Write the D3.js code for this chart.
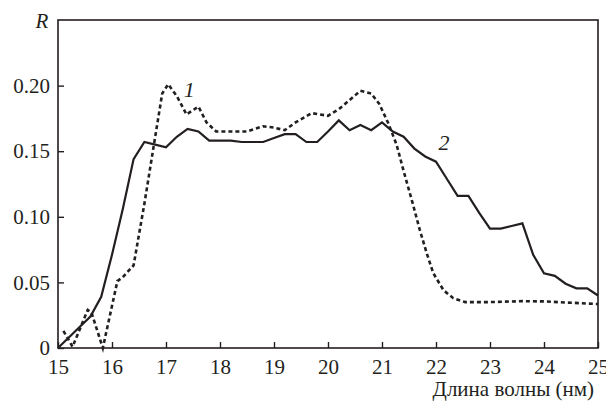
<!DOCTYPE html>
<html>
<head>
<meta charset="utf-8">
<script src="https://cdn.jsdelivr.net/npm/d3@7"></script>
<style>
  html, body { margin: 0; padding: 0; background: #fff; }
  svg { display: block; }
  svg text { font-family: "Liberation Serif", "Times New Roman", Times, serif !important; }
</style>
</head>
<body>
<svg id="chart" width="606" height="403"></svg>
<script>
// Curve 2 (solid)
const solidLambda = [15.0,15.2,15.4,15.6,15.8,16.0,16.2,16.4,16.6,16.8,17.0,17.2,17.4,17.6,17.8,18.0,18.2,18.4,18.6,18.8,19.0,19.2,19.4,19.6,19.8,20.0,20.2,20.4,20.6,20.8,21.0,21.2,21.4,21.6,21.8,22.0,22.2,22.4,22.6,22.8,23.0,23.2,23.4,23.6,23.8,24.0,24.2,24.4,24.6,24.8,25.0];
const solidR = [0,0.008,0.016,0.024,0.039,0.071,0.106,0.144,0.157,0.155,0.153,0.161,0.167,0.165,0.158,0.158,0.158,0.157,0.157,0.157,0.160,0.163,0.163,0.157,0.157,0.165,0.1735,0.166,0.170,0.166,0.172,0.165,0.161,0.152,0.146,0.142,0.129,0.116,0.116,0.103,0.091,0.091,0.093,0.095,0.071,0.057,0.055,0.049,0.0455,0.0455,0.040];

// Curve 1 (dashed)
const dashLambda = [15.1,15.27,15.55,15.62,15.83,16.1,16.2,16.4,16.6,16.8,16.93,17.04,17.2,17.38,17.6,17.75,17.93,18.2,18.49,18.8,19.0,19.2,19.4,19.7,20.0,20.2,20.4,20.6,20.8,20.95,21.12,21.27,21.4,21.55,21.7,21.83,21.95,22.14,22.32,22.54,23.0,23.6,24.0,24.5,25.0];
const dashR = [0.013,0.001,0.029,0.027,0.0,0.051,0.054,0.063,0.110,0.161,0.194,0.201,0.192,0.178,0.184,0.172,0.165,0.165,0.165,0.169,0.168,0.166,0.172,0.179,0.177,0.182,0.189,0.196,0.194,0.186,0.171,0.155,0.135,0.113,0.090,0.072,0.057,0.044,0.038,0.035,0.035,0.0357,0.0355,0.0345,0.0335];

const xTicks = [15,16,17,18,19,20,21,22,23,24,25];
const yTicks = [0,0.05,0.10,0.15,0.20];
const yTickLabels = ["0","0.05","0.10","0.15","0.20"];
const curveLabels = ["1","2"];
const xTitle = "Длина волны (нм)";
const yTitle = "R";

const ink = "#231f20";

const svg = d3.select("#chart");
const margin = {left: 58, right: 8, top: 20, bottom: 55};
const W = 606, H = 403;
const x = d3.scaleLinear().domain([15,25]).range([margin.left, W - margin.right]);
const y = d3.scaleLinear().domain([0,0.25]).range([H - margin.bottom, margin.top]);

function serif(sel, size) {
  return sel.attr("font-family", "Liberation Serif").attr("font-size", size).attr("fill", ink);
}

// frame
svg.append("rect")
  .attr("x", x(15)).attr("y", y(0.25))
  .attr("width", x(25) - x(15)).attr("height", y(0) - y(0.25))
  .attr("fill", "none").attr("stroke", ink).attr("stroke-width", 1.6);

// x axis
const xAxis = svg.append("g").attr("transform", `translate(0,${y(0)})`)
  .call(d3.axisBottom(x).tickValues(xTicks).tickSizeInner(-6).tickSizeOuter(0).tickPadding(11).tickFormat(d3.format("d")));
serif(xAxis, 21);
xAxis.select(".domain").remove();
xAxis.selectAll("line").attr("stroke", ink).attr("stroke-width", 1.4);
serif(xAxis.selectAll("text"), 21);

// y axis
const yAxis = svg.append("g").attr("transform", `translate(${x(15)},0)`)
  .call(d3.axisLeft(y).tickValues(yTicks).tickSizeInner(-6).tickSizeOuter(0).tickPadding(8).tickFormat((d,i) => yTickLabels[i]));
serif(yAxis, 21);
yAxis.select(".domain").remove();
yAxis.selectAll("line").attr("stroke", ink).attr("stroke-width", 1.4);
serif(yAxis.selectAll("text"), 21);

// lines
const solidData = solidLambda.map((l,i) => [l, solidR[i]]);
const dashData = dashLambda.map((l,i) => [l, dashR[i]]);
const line = d3.line().x(d => x(d[0])).y(d => y(d[1])).curve(d3.curveLinear);

svg.append("path").datum(dashData).attr("d", line)
  .attr("fill", "none").attr("stroke", ink).attr("stroke-width", 2.6)
  .attr("stroke-dasharray", "4,3");
svg.append("path").datum(solidData).attr("d", line)
  .attr("fill", "none").attr("stroke", ink).attr("stroke-width", 2.2)
  .attr("stroke-linejoin", "miter");

// curve labels
serif(svg.append("text"), 22).attr("x", x(17.43)).attr("y", y(0.191))
  .attr("text-anchor", "middle").attr("font-style", "italic").text(curveLabels[0]);
serif(svg.append("text"), 22).attr("x", x(22.15)).attr("y", y(0.151))
  .attr("text-anchor", "middle").attr("font-style", "italic").text(curveLabels[1]);

// titles
serif(svg.append("text"), 21).attr("x", 42).attr("y", 28)
  .attr("text-anchor", "middle").attr("font-style", "italic").text(yTitle);
serif(svg.append("text"), 21).attr("x", 594).attr("y", 396)
  .attr("text-anchor", "end").text(xTitle);
</script>
</body>
</html>
